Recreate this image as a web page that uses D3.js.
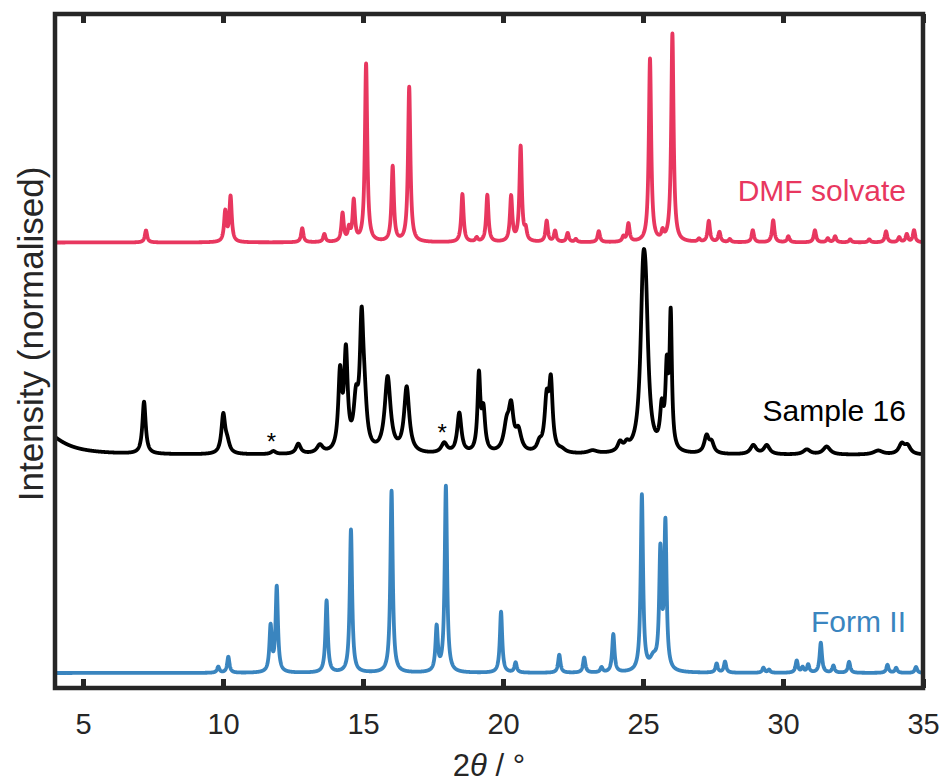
<!DOCTYPE html>
<html>
<head>
<meta charset="utf-8">
<script src="https://cdn.jsdelivr.net/npm/d3@7"></script>
<style>
	body { margin: 0; background: #fff; }
	svg text { font-family: "Liberation Sans", Arial, Helvetica, sans-serif; }
</style>
</head>
<body>
<div id="c-pxrd"></div>
<script>

const dmfPeaks = [
	[7.25, 0.12, 0.1], [10.08, 0.30, 0.1], [10.27, 0.45, 0.1], [12.83, 0.14, 0.1],
	[13.62, 0.08, 0.1], [14.27, 0.28, 0.1], [14.50, 0.12, 0.1], [14.67, 0.40, 0.1],
	[15.11, 1.78, 0.1], [16.06, 0.75, 0.1], [16.65, 1.55, 0.1], [18.55, 0.48, 0.1],
	[19.06, 0.04, 0.1], [19.44, 0.47, 0.1], [20.29, 0.45, 0.1], [20.63, 0.95, 0.1],
	[20.81, 0.10, 0.1], [21.56, 0.21, 0.1], [21.86, 0.11, 0.1], [22.31, 0.09, 0.1],
	[22.60, 0.03, 0.1], [23.42, 0.11, 0.1], [24.30, 0.05, 0.1], [24.48, 0.18, 0.1],
	[25.25, 1.83, 0.1], [25.70, 0.08, 0.1], [26.05, 2.08, 0.1], [27.00, 0.03, 0.1],
	[27.35, 0.21, 0.1], [27.73, 0.10, 0.1], [28.10, 0.03, 0.1], [28.92, 0.12, 0.1],
	[29.65, 0.22, 0.1], [30.19, 0.06, 0.1], [31.14, 0.12, 0.1], [31.60, 0.04, 0.1],
	[31.86, 0.06, 0.1], [32.40, 0.03, 0.1], [33.08, 0.03, 0.1], [33.68, 0.11, 0.1],
	[34.15, 0.05, 0.1], [34.42, 0.08, 0.1], [34.68, 0.12, 0.1]
];

const samplePeaks = [
	[3.50, 0.25, 1.6], [7.18, 0.52, 0.14], [10.01, 0.38, 0.16], [10.15, 0.10, 0.2],
	[11.80, 0.03, 0.2], [12.69, 0.10, 0.2], [13.46, 0.08, 0.25], [14.18, 0.75, 0.15],
	[14.39, 0.95, 0.15], [14.75, 0.45, 0.2], [14.95, 1.15, 0.15], [15.05, 0.40, 0.2],
	[15.88, 0.75, 0.25], [16.56, 0.65, 0.22], [17.90, 0.10, 0.25], [18.44, 0.40, 0.18],
	[19.14, 0.75, 0.12], [19.30, 0.40, 0.15], [20.13, 0.25, 0.25], [20.29, 0.40, 0.2],
	[20.55, 0.20, 0.25], [21.30, 0.08, 0.2], [21.56, 0.50, 0.18], [21.71, 0.65, 0.15],
	[22.10, 0.03, 0.3], [23.20, 0.03, 0.4], [24.18, 0.09, 0.2], [24.42, 0.06, 0.2],
	[25.00, 1.35, 0.22], [25.10, 1.10, 0.22], [25.67, 0.38, 0.15], [25.85, 0.75, 0.12],
	[25.99, 1.30, 0.1], [27.27, 0.17, 0.2], [27.45, 0.10, 0.2], [28.94, 0.09, 0.25],
	[29.42, 0.09, 0.25], [30.85, 0.05, 0.3], [31.56, 0.08, 0.3], [33.40, 0.04, 0.4],
	[34.24, 0.10, 0.25], [34.45, 0.08, 0.25]
];

const formPeaks = [
	[9.83, 0.06, 0.1], [10.19, 0.16, 0.1], [11.70, 0.45, 0.1], [11.92, 0.85, 0.1],
	[13.70, 0.72, 0.1], [14.57, 1.43, 0.1], [16.02, 1.82, 0.1], [17.63, 0.44, 0.1],
	[17.96, 1.86, 0.1], [19.93, 0.61, 0.1], [20.45, 0.10, 0.1], [22.01, 0.18, 0.1],
	[22.90, 0.15, 0.1], [23.52, 0.05, 0.1], [23.94, 0.38, 0.1], [24.96, 1.76, 0.1],
	[25.37, 0.12, 0.3], [25.62, 1.15, 0.1], [25.80, 1.45, 0.1], [27.63, 0.09, 0.1],
	[27.93, 0.11, 0.1], [29.30, 0.05, 0.1], [29.50, 0.03, 0.1], [30.49, 0.12, 0.1],
	[30.70, 0.05, 0.1], [30.90, 0.08, 0.1], [31.35, 0.30, 0.1], [31.80, 0.07, 0.1],
	[32.36, 0.11, 0.1], [33.73, 0.08, 0.1], [34.04, 0.05, 0.1], [34.75, 0.06, 0.1]
];

// stacking offsets of each pattern
const seriesNames = ["DMF solvate", "Sample 16", "Form II"];
const seriesOffsets = [4.455, 2.33, 0.15];
const seriesColors = ["#e8375f", "#000000", "#3a85bf"];

const xTicks = [5, 10, 15, 20, 25, 30, 35];
const asterisks = [11.8, 17.9];


const width = 942;
const height = 784;
const margin = {top: 14, right: 19, bottom: 96, left: 55};

let svg = d3.select("#c-pxrd")
	.append("svg")
	.attr("width", width)
	.attr("height", height);

let x = d3.scaleLinear()
	.domain([4, 35])
	.range([margin.left, width - margin.right]);

let y = d3.scaleLinear()
	.domain([0, 6.74])
	.range([height - margin.bottom, margin.top]);


// lorentzian sum of the peak list
function profile(peaks, t){
	let s = 0;
	peaks.forEach(p => {
		let hw = p[2] / 2;
		let d = (t - p[0]) / hw;
		s += p[1] / (1 + d * d);
	});
	return s;
}

const grid = d3.range(4, 35.0001, 0.005);
const allPeaks = [dmfPeaks, samplePeaks, formPeaks];

let line = d3.line()
	.x(d => x(d[0]))
	.y(d => y(d[1]));

let plot = svg.append("g").attr("class", "patterns");

allPeaks.forEach((peaks, i) => {
	let pts = grid.map(t => [t, seriesOffsets[i] + profile(peaks, t)]);
	plot.append("path")
		.datum(pts)
		.attr("fill", "none")
		.attr("stroke", seriesColors[i])
		.attr("stroke-width", 3.8)
		.attr("stroke-linejoin", "round")
		.attr("d", line);
});


// asterisks on sample 16
svg.selectAll(".star")
	.data(asterisks)
	.enter()
	.append("text")
	.attr("class", "star")
	.attr("x", d => x(d) - 2)
	.attr("y", d => y(seriesOffsets[1] + profile(samplePeaks, d)) - 1)
	.attr("text-anchor", "middle")
	.attr("font-size", "24px")
	.attr("fill", "#000")
	.text("*");


// labels of the patterns
const labelY = [201, 421, 632];
svg.selectAll(".series-label")
	.data(seriesNames)
	.enter()
	.append("text")
	.attr("class", "series-label")
	.attr("x", x(35) - 17)
	.attr("y", (d, i) => labelY[i])
	.attr("text-anchor", "end")
	.attr("font-size", "30px")
	.attr("fill", (d, i) => seriesColors[i])
	.text(d => d);


// frame and ticks
let frame = svg.append("g").attr("class", "frame");

frame.append("rect")
	.attr("x", x(4))
	.attr("y", y(6.74))
	.attr("width", x(35) - x(4))
	.attr("height", y(0) - y(6.74))
	.attr("fill", "none")
	.attr("stroke", "#262626")
	.attr("stroke-width", 4.5);

let xAxis = d3.axisBottom(x)
	.tickValues(xTicks)
	.tickSizeInner(-9)
	.tickSizeOuter(0)
	.tickPadding(25);

let gx = svg.append("g")
	.attr("transform", `translate(0,${y(0)})`)
	.call(xAxis);

gx.select(".domain").remove();
gx.selectAll(".tick line")
	.attr("stroke", "#262626")
	.attr("stroke-width", 5);
gx.selectAll(".tick text")
	.attr("font-size", "29px")
	.attr("fill", "#262626")
	.attr("font-family", "'Liberation Sans', Arial, sans-serif");

let gxTop = svg.append("g")
	.attr("transform", `translate(0,${y(6.74)})`)
	.call(d3.axisTop(x).tickValues(xTicks).tickSizeInner(-9).tickSizeOuter(0).tickFormat(""));

gxTop.select(".domain").remove();
gxTop.selectAll(".tick line")
	.attr("stroke", "#262626")
	.attr("stroke-width", 5);


// axis titles
let xTitle = svg.append("text")
	.attr("x", (x(4) + x(35)) / 2)
	.attr("y", 776)
	.attr("text-anchor", "middle")
	.attr("font-size", "31px")
	.attr("fill", "#262626");

xTitle.append("tspan").text("2");
xTitle.append("tspan").attr("font-style", "italic").text("\u03b8");
xTitle.append("tspan").text(" / \u00b0");

svg.append("text")
	.attr("transform", "translate(43,334) rotate(-90)")
	.attr("text-anchor", "middle")
	.attr("font-size", "35px")
	.attr("fill", "#262626")
	.text("Intensity (normalised)");

</script>
</body>
</html>
